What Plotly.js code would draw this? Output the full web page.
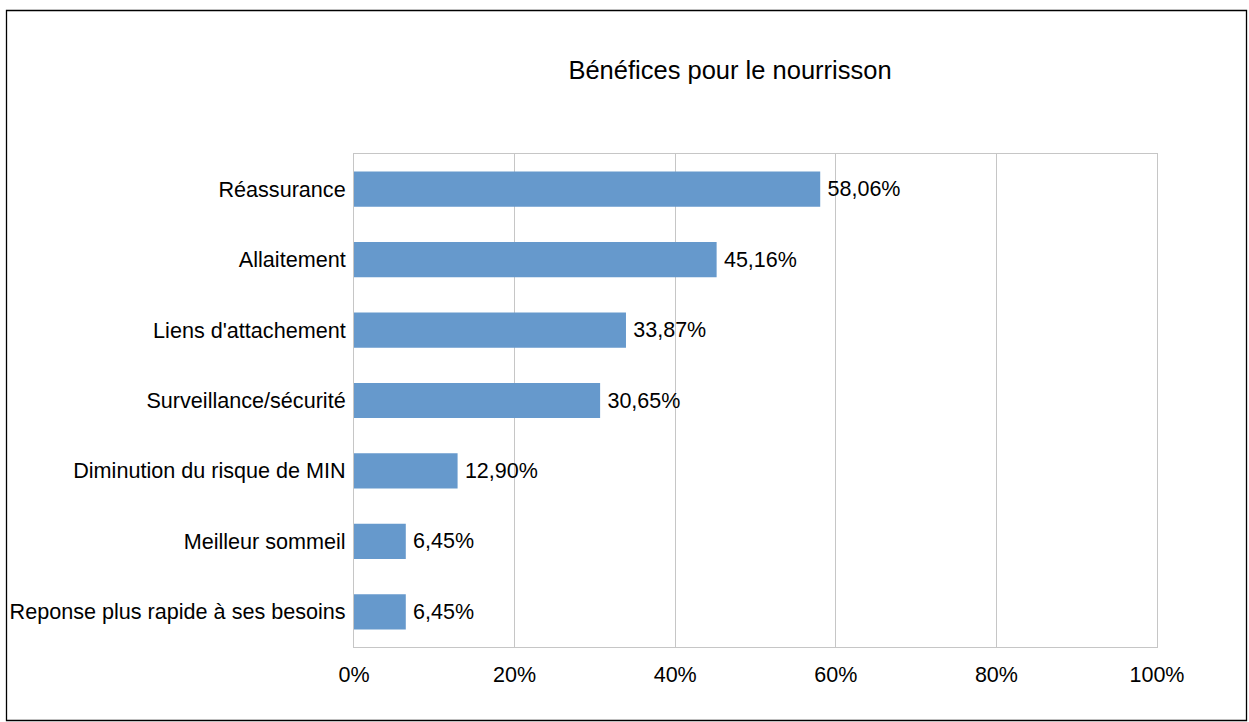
<!DOCTYPE html>
<html><head><meta charset="utf-8">
<script src="https://cdn.plot.ly/plotly-3.0.1.min.js"></script>
<style>html,body{margin:0;padding:0;background:#fff}#chart{width:1249px;height:722px}</style>
</head><body><div id="chart"></div>
<script>
const categories = ["Réassurance","Allaitement","Liens d'attachement","Surveillance/sécurité","Diminution du risque de MIN","Meilleur sommeil","Reponse plus rapide à ses besoins"];
const values = [58.06, 45.16, 33.87, 30.65, 12.90, 6.45, 6.45];
const tickValues = [0,20,40,60,80,100];
const tickLabels = ["0%","20%","40%","60%","80%","100%"];
const labels = values.map(v => '\u2009' + v.toFixed(2).replace('.', ',') + '%');

const W = 1249, H = 722;
const L = 354, R = 1157, T = 154, B = 647;
const px = x => (x - L) / (R - L);
const py = y => (B - y) / (B - T);
const FONT = 'Liberation Sans, Arial, sans-serif';

const trace = {
  type: 'bar', orientation: 'h',
  y: categories.slice().reverse(), x: values.slice().reverse(),
  text: labels.slice().reverse(), textposition: 'outside', cliponaxis: false,
  textfont: {family: FONT, size: 21.5, color: '#000'},
  marker: {color: '#6699cc'}, hoverinfo: 'none'
};
const layout = {
  width: W, height: H,
  margin: {l: L, r: W - R, t: T, b: H - B, pad: 0},
  paper_bgcolor: '#fff', plot_bgcolor: '#fff',
  bargap: 0.5,
  font: {family: FONT, size: 21.6, color: '#000'},
  title: {text: 'Bénéfices pour le nourrisson', font: {size: 25.5, color: '#000'},
          xref: 'paper', x: px(730), xanchor: 'center', yref: 'container', y: 1 - 70 / H, yanchor: 'middle'},
  xaxis: {range: [0, 100], tickvals: tickValues, ticktext: tickLabels, tickfont: {size: 21.5},
          showgrid: true, gridcolor: '#c6c6c6', gridwidth: 1,
          zeroline: false, showline: true, linecolor: '#c6c6c6', mirror: true, ticks: '', ticklabelstandoff: 8, fixedrange: true},
  yaxis: {showgrid: false, zeroline: false, showline: true, linecolor: '#c6c6c6', mirror: true, ticks: '', ticklabelstandoff: 3, fixedrange: true},
  shapes: [{type: 'rect', xref: 'paper', yref: 'paper', x0: px(6.5), x1: px(1246.5), y0: py(720.5), y1: py(10.5),
            line: {color: '#000', width: 1.3}, fillcolor: 'rgba(0,0,0,0)', layer: 'above'}],
  showlegend: false
};
Plotly.newPlot('chart', [trace], layout, {displayModeBar: false, staticPlot: true});
</script></body></html>
